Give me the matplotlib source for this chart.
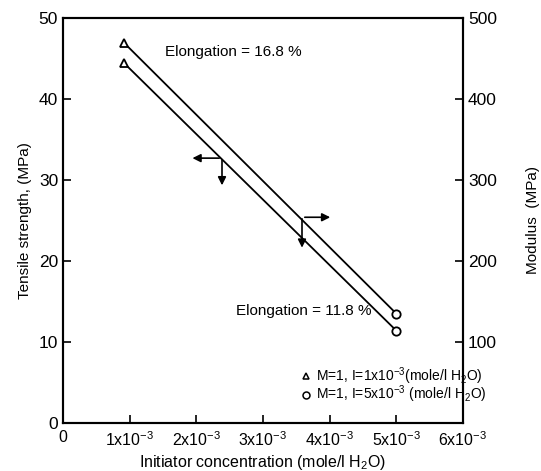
import matplotlib
matplotlib.use("Agg")
import matplotlib.pyplot as plt

# initiator concentration (mole / l H2O)
conc = [0.92e-3, 5.0e-3]
tensile = [44.4, 11.4]      # MPa, left axis
modulus = [469.0, 135.0]    # MPa, right axis

xticks = [0, 1e-3, 2e-3, 3e-3, 4e-3, 5e-3, 6e-3]
xticklabels = ["0", r"1x10$^{-3}$", r"2x10$^{-3}$", r"3x10$^{-3}$",
               r"4x10$^{-3}$", r"5x10$^{-3}$", r"6x10$^{-3}$"]
legend_1 = r"M=1, I=1x10$^{-3}$(mole/l H$_2$O)"
legend_5 = r"M=1, I=5x10$^{-3}$ (mole/l H$_2$O)"

fnt = "Liberation Sans"
plt.rcParams["font.family"] = [fnt, "DejaVu Sans"]
plt.rcParams["mathtext.fontset"] = "custom"
plt.rcParams["mathtext.rm"] = fnt
plt.rcParams["mathtext.it"] = fnt
plt.rcParams["mathtext.default"] = "regular"

fig = plt.figure(figsize=(5.41, 4.71), dpi=100)
ax = fig.add_axes([63 / 541, 48 / 471, 400 / 541, 405 / 471])
ax2 = ax.twinx()

def draw_line(a, ys):
    a.plot(conc, ys, color="black", lw=1.3, zorder=2)
    a.plot(conc[0], ys[0], marker="^", ms=6, mfc="white", mec="black", mew=1.3, zorder=3)
    a.plot(conc[1], ys[1], marker="o", ms=6, mfc="white", mec="black", mew=1.3, zorder=3)

draw_line(ax, tensile)
draw_line(ax2, modulus)

ax.set_xlim(0, 6e-3)
ax.set_ylim(0, 50)
ax2.set_ylim(0, 500)
ax.set_xticks(xticks)
ax.set_xticklabels(xticklabels)
ax.set_yticks([0, 10, 20, 30, 40, 50])
ax2.set_yticks([100, 200, 300, 400, 500])

for a in (ax, ax2):
    for s in a.spines.values():
        s.set_linewidth(1.5)
    a.tick_params(direction="in", length=6, width=1.2, labelsize=12.5)
ax.tick_params(axis="x", pad=5, labelsize=11.5)

ax.set_xlabel("Initiator concentration (mole/l H$_2$O)", fontsize=11.5, labelpad=3)
ax.set_ylabel("Tensile strength, (MPa)", fontsize=11, labelpad=5)
ax2.set_ylabel("Modulus  (MPa)", fontsize=11, labelpad=21)

# arrows pointing each line to its axis
akw = dict(arrowstyle="-|>", color="black", lw=1.2, mutation_scale=12)
ax.annotate("", xy=(1.90e-3, 32.7), xytext=(2.385e-3, 32.7), arrowprops=akw)
ax.annotate("", xy=(2.385e-3, 29.0), xytext=(2.385e-3, 32.85), arrowprops=akw)
ax.annotate("", xy=(4.05e-3, 25.4), xytext=(3.585e-3, 25.4), arrowprops=akw)
ax.annotate("", xy=(3.585e-3, 21.3), xytext=(3.585e-3, 25.55), arrowprops=akw)

ax.text(1.53e-3, 45.8, "Elongation = 16.8 %", fontsize=11, va="center")
ax.text(2.60e-3, 13.8, "Elongation = 11.8 %", fontsize=11, va="center")

# legend drawn as marker + text rows
ax.plot(3.65e-3, 5.8, marker="^", ms=5, mfc="white", mec="black", mew=1.1)
ax.text(3.8e-3, 5.8, legend_1, fontsize=10, va="center")
ax.plot(3.65e-3, 3.5, marker="o", ms=5, mfc="white", mec="black", mew=1.1)
ax.text(3.8e-3, 3.5, legend_5, fontsize=10, va="center")

fig.savefig("out.png", dpi=100)
